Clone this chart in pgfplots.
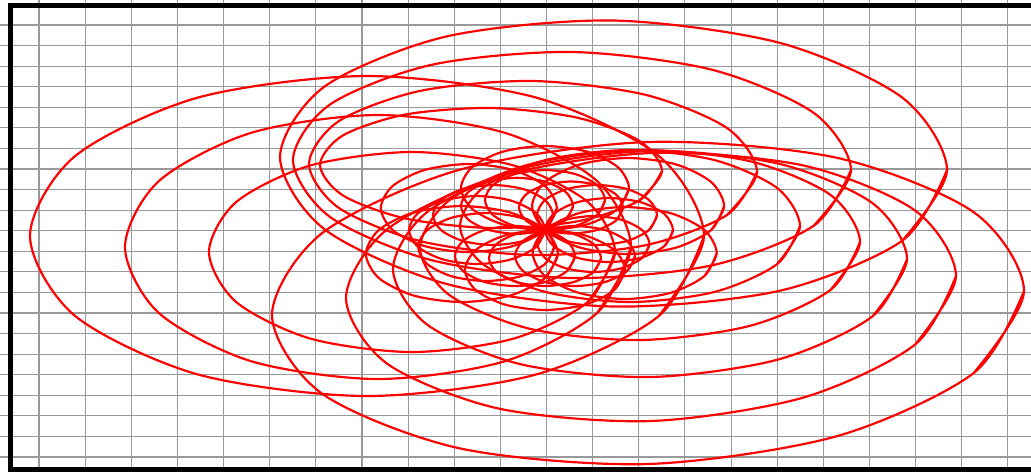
\documentclass[border=0pt]{standalone}
\usepackage{pgfplots}
\pgfplotsset{compat=1.18}
\pgfplotsset{loop/.style={red, mark=none, solid, line width=0.62pt, smooth}}
\begin{document}
\begin{tikzpicture}
\begin{axis}[
  width=10.31cm, height=4.72cm, scale only axis,
  xmin=0, xmax=1031, ymin=0, ymax=472, y dir=reverse,
  axis line style={draw=none},
  xtick={39,85.14,...,1010}, ytick={25,45.57,...,458},
  xticklabels={}, yticklabels={}, major tick length=0pt,
  grid=major, grid style={black!40, line width=0.3pt},
]
% large left family
\addplot[loop] coordinates {(704,236) (658.8,316) (535.5,374.6) (367,396) (198.5,374.6) (75.2,316) (30,236) (75.2,156) (198.5,97.4) (367,76) (535.5,97.4) (658.8,156) (704,236) (658.8,316)};
\addplot[loop] coordinates {(631,247) (597.1,313) (504.5,361.3) (378,379) (251.5,361.3) (158.9,313) (125,247) (158.9,181) (251.5,132.7) (378,115) (504.5,132.7) (597.1,181) (631,247) (597.1,313)};
\addplot[loop] coordinates {(615,252) (587.8,302) (513.5,338.6) (412,352) (310.5,338.6) (236.2,302) (209,252) (236.2,202) (310.5,165.4) (412,152) (513.5,165.4) (587.8,202) (615,252) (587.8,302)};
% upper family
\addplot[loop] coordinates {(947,170) (902.3,240.6) (780.3,290.6) (613.5,306.5) (446.7,284) (324.7,229.4) (280,157) (324.7,86.4) (446.7,36.4) (613.5,20.5) (780.3,43) (902.3,97.6) (947,170) (902.3,240.6)};
\addplot[loop] coordinates {(851,170) (813.6,225.8) (711.5,265.4) (572,278) (432.5,260.4) (330.4,217.2) (293,160) (330.4,104.2) (432.5,64.6) (572,52) (711.5,69.6) (813.6,112.8) (851,170) (813.6,225.8)};
\addplot[loop] coordinates {(757,172) (727,215) (645,245.3) (533,255) (421,241.3) (339,208) (309,164) (339,121) (421,90.7) (533,81) (645,94.7) (727,128) (757,172) (727,215)};
\addplot[loop] coordinates {(662,171) (639.1,200.6) (576.5,221.5) (491,228) (405.5,218.5) (342.9,195.4) (320,165) (342.9,135.4) (405.5,114.5) (491,108) (576.5,117.5) (639.1,140.6) (662,171) (639.1,200.6)};
% lower right family
\addplot[loop] coordinates {(1024,291) (973.6,373.1) (836,436.4) (648,464) (460,448.4) (322.4,393.9) (272,315) (322.4,232.9) (460,169.6) (648,142) (836,157.6) (973.6,212.1) (1024,291) (973.6,373.1)};
\addplot[loop] coordinates {(956,276) (915.1,344.5) (803.5,397.5) (651,421) (498.5,408.5) (386.9,363.5) (346,298) (386.9,229.5) (498.5,176.5) (651,153) (803.5,165.5) (915.1,210.5) (956,276) (915.1,344.5)};
\addplot[loop] coordinates {(907,259) (872.6,316.2) (778.5,359.4) (650,377) (521.5,364.4) (427.4,324.8) (393,269) (427.4,211.8) (521.5,168.6) (650,151) (778.5,163.6) (872.6,203.2) (907,259) (872.6,316.2)};
\addplot[loop] coordinates {(860,242) (830.5,289.9) (750,325.8) (640,340) (530,328.8) (449.5,295.1) (420,248) (449.5,200.1) (530,164.2) (640,150) (750,161.2) (830.5,194.9) (860,242) (830.5,289.9)};
\addplot[loop] coordinates {(800,226) (777.2,264) (715,291.8) (630,302) (545,291.8) (482.8,264) (460,226) (482.8,188) (545,160.2) (630,150) (715,160.2) (777.2,188) (800,226) (777.2,264)};
% medium loops through the centre
\addplot[loop] coordinates {(557.9,254) (545,278) (509.9,295.6) (461.9,302) (413.9,295.6) (378.8,278) (365.9,254) (378.8,230) (413.9,212.4) (461.9,206) (509.9,212.4) (545,230) (557.9,254) (545,278)};
\addplot[loop] coordinates {(716.7,253) (704.4,276) (670.7,292.8) (624.7,299) (578.7,292.8) (545,276) (532.7,253) (545,230) (578.7,213.2) (624.7,207) (670.7,213.2) (704.4,230) (716.7,253) (704.4,276)};
\addplot[loop] coordinates {(556.8,208) (545,230) (512.8,246.1) (468.8,252) (424.8,246.1) (392.6,230) (380.8,208) (392.6,186) (424.8,169.9) (468.8,164) (512.8,169.9) (545,186) (556.8,208) (545,230)};
\addplot[loop] coordinates {(724.1,206) (711.2,230) (676.1,247.6) (628.1,254) (580.1,247.6) (545,230) (532.1,206) (545,182) (580.1,164.4) (628.1,158) (676.1,164.4) (711.2,182) (724.1,206) (711.2,230)};
\addplot[loop] coordinates {(625,270) (614.3,290) (585,304.6) (545,310) (505,304.6) (475.7,290) (465,270) (475.7,250) (505,235.4) (545,230) (585,235.4) (614.3,250) (625,270) (614.3,290)};
\addplot[loop] coordinates {(629,188) (617.7,209) (587,224.4) (545,230) (503,224.4) (472.3,209) (461,188) (472.3,167) (503,151.6) (545,146) (587,151.6) (617.7,167) (629,188) (617.7,209)};
% small flower
\addplot[loop] coordinates {(673,230) (664.4,246) (641,257.7) (609,262) (577,257.7) (553.6,246) (545,230) (553.6,214) (577,202.3) (609,198) (641,202.3) (664.4,214) (673,230) (664.4,246)};
\addplot[loop] coordinates {(649.5,244) (642,258) (621.5,268.2) (593.5,272) (565.5,268.2) (545,258) (537.5,244) (545,230) (565.5,219.8) (593.5,216) (621.5,219.8) (642,230) (649.5,244) (642,258)};
\addplot[loop] coordinates {(635,256) (627,271) (605,282) (575,286) (545,282) (523,271) (515,256) (523,241) (545,230) (575,226) (605,230) (627,241) (635,256) (627,271)};
\addplot[loop] coordinates {(601,258) (593.5,272) (573,282.2) (545,286) (517,282.2) (496.5,272) (489,258) (496.5,244) (517,233.8) (545,230) (573,233.8) (593.5,244) (601,258) (593.5,272)};
\addplot[loop] coordinates {(575,256) (567,271) (545,282) (515,286) (485,282) (463,271) (455,256) (463,241) (485,230) (515,226) (545,230) (567,241) (575,256) (567,271)};
\addplot[loop] coordinates {(554.1,247) (545,264) (520.1,276.4) (486.1,281) (452.1,276.4) (427.2,264) (418.1,247) (427.2,230) (452.1,217.6) (486.1,213) (520.1,217.6) (545,230) (554.1,247) (545,264)};
\addplot[loop] coordinates {(545,230) (535.9,247) (511,259.4) (477,264) (443,259.4) (418.1,247) (409,230) (418.1,213) (443,200.6) (477,196) (511,200.6) (535.9,213) (545,230) (535.9,247)};
\addplot[loop] coordinates {(553,215) (545,230) (523,241) (493,245) (463,241) (441,230) (433,215) (441,200) (463,189) (493,185) (523,189) (545,200) (553,215) (545,230)};
\addplot[loop] coordinates {(573,205.8) (565.5,219.8) (545,230) (517,233.8) (489,230) (468.5,219.8) (461,205.8) (468.5,191.8) (489,181.6) (517,177.8) (545,181.6) (565.5,191.8) (573,205.8) (565.5,219.8)};
\addplot[loop] coordinates {(605,200) (597,215) (575,226) (545,230) (515,226) (493,215) (485,200) (493,185) (515,174) (545,170) (575,174) (597,185) (605,200) (597,215)};
\addplot[loop] coordinates {(623,207.5) (616,220.5) (597,230) (571,233.5) (545,230) (526,220.5) (519,207.5) (526,194.5) (545,185) (571,181.5) (597,185) (616,194.5) (623,207.5) (616,220.5)};
\addplot[loop] coordinates {(657,215) (649,230) (627,241) (597,245) (567,241) (545,230) (537,215) (545,200) (567,189) (597,185) (627,189) (649,200) (657,215) (649,230)};
% frame: left, top and bottom only
\draw[black, line width=1.5pt] (axis cs:10.5,3) -- (axis cs:10.5,472);
\draw[black, line width=1.5pt] (axis cs:8,5.5) -- (axis cs:1031,5.5);
\draw[black, line width=1.5pt] (axis cs:8,469.5) -- (axis cs:1031,469.5);
\end{axis}
\pgfresetboundingbox
\path (current axis.south west) rectangle (current axis.north east);
\end{tikzpicture}
\end{document}
